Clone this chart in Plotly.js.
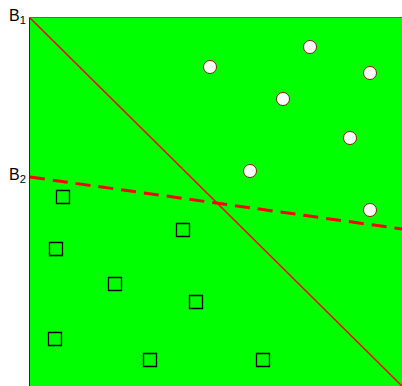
<!DOCTYPE html>
<html>
<head>
<meta charset="utf-8">
<script src="https://cdn.plot.ly/plotly-3.0.1.min.js"></script>
<style>
  body { margin: 0; padding: 0; background: #ffffff; }
  #chart { width: 402px; height: 386px; }
</style>
</head>
<body>
<div id="chart"></div>
<script>
// class A points (white circles)
var circleX = [180, 280, 340, 253, 320, 220, 340];
var circleY = [319, 339, 313, 287, 248, 215, 176];

// class B points (open squares)
var squareX = [33, 153, 26, 85, 166, 25, 120, 233];
var squareY = [189, 156, 137, 102, 84, 47, 26, 26];

// boundary B1 (solid) and B2 (dashed)
var b1X = [0, 372];
var b1Y = [368, 0];
var b2X = [0, 372];
var b2Y = [209, 157];

var traces = [
    {
        x: b1X, y: b1Y, type: 'scatter', mode: 'lines',
        line: {color: '#ff0000', width: 1.5},
        hoverinfo: 'skip'
    },
    {
        x: b2X, y: b2Y, type: 'scatter', mode: 'lines',
        line: {color: '#ff0000', width: 3, dash: '15px,8px'},
        hoverinfo: 'skip'
    },
    {
        x: circleX, y: circleY, type: 'scatter', mode: 'markers',
        marker: {symbol: 'circle', size: 13, color: '#ffffff', line: {color: '#8b1a1a', width: 1}}
    },
    {
        x: squareX, y: squareY, type: 'scatter', mode: 'markers',
        marker: {symbol: 'square-open', size: 13, color: '#000000', line: {width: 1.3}}
    }
];

var layout = {
    width: 402,
    height: 386,
    margin: {l: 30, r: 0, t: 18, b: 0},
    paper_bgcolor: '#ffffff',
    plot_bgcolor: '#00ff00',
    showlegend: false,
    xaxis: {
        range: [0, 372], showgrid: false, zeroline: false, showticklabels: false, ticks: '',
        showline: true, mirror: true, linecolor: '#666666', linewidth: 1
    },
    yaxis: {
        range: [0, 368], showgrid: false, zeroline: false, showticklabels: false, ticks: '',
        showline: true, linecolor: '#1a3a1a', linewidth: 1.5
    },
    annotations: [
        {
            text: 'B<sub>1</sub>', xref: 'paper', yref: 'y', x: 0, y: 368,
            xanchor: 'right', yanchor: 'middle', xshift: -2, yshift: 2, showarrow: false,
            font: {family: 'Liberation Sans, Arial, sans-serif', size: 16, color: '#000000'}
        },
        {
            text: 'B<sub>2</sub>', xref: 'paper', yref: 'y', x: 0, y: 209,
            xanchor: 'right', yanchor: 'middle', xshift: -2, yshift: 2, showarrow: false,
            font: {family: 'Liberation Sans, Arial, sans-serif', size: 16, color: '#000000'}
        }
    ]
};

Plotly.newPlot('chart', traces, layout, {staticPlot: true});
</script>
</body>
</html>
